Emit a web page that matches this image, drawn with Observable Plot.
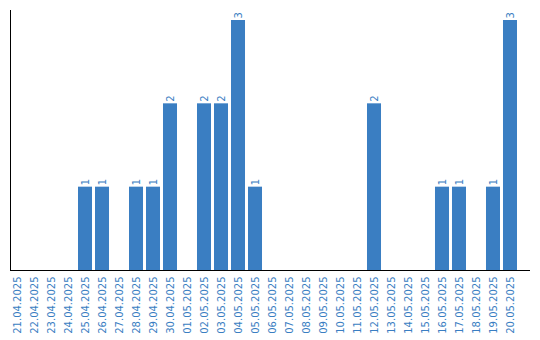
<!DOCTYPE html>
<html>
<head>
<meta charset="utf-8">
<script src="https://cdn.jsdelivr.net/npm/d3@7"></script>
<script src="https://cdn.jsdelivr.net/npm/@observablehq/plot@0.6"></script>
<style>
  html, body { margin: 0; padding: 0; background: #fff; }
  svg, svg text { font-family: "DejaVu Sans", sans-serif !important; }
</style>
</head>
<body>
<div id="chart"></div>
<script>
const dates = [
  "21.04.2025","22.04.2025","23.04.2025","24.04.2025","25.04.2025","26.04.2025",
  "27.04.2025","28.04.2025","29.04.2025","30.04.2025","01.05.2025","02.05.2025",
  "03.05.2025","04.05.2025","05.05.2025","06.05.2025","07.05.2025","08.05.2025",
  "09.05.2025","10.05.2025","11.05.2025","12.05.2025","13.05.2025","14.05.2025",
  "15.05.2025","16.05.2025","17.05.2025","18.05.2025","19.05.2025","20.05.2025"
];
const counts = [
  0,0,0,0,1,1,
  0,1,1,2,0,2,
  2,3,1,0,0,0,
  0,0,0,2,0,0,
  0,1,1,0,1,3
];

const color = "#3a7ec2";
const data = dates.map((d, i) => ({date: d, count: counts[i]}));
const nonzero = data.filter(d => d.count > 0);

const plot = Plot.plot({
  width: 540,
  height: 340,
  marginLeft: 10,
  marginRight: 10,
  marginTop: 10,
  marginBottom: 70,
  style: {fontFamily: "DejaVu Sans", fontSize: "10px", background: "#fff"},
  x: {type: "band", domain: dates, insetRight: 13, paddingInner: 0.176, paddingOuter: 0, round: false, axis: null},
  y: {domain: [0, 3], insetTop: 10, axis: null},
  marks: [
    Plot.barY(nonzero, {x: "date", y: "count", fill: color}),
    Plot.text(nonzero, {x: "date", y: "count", text: d => String(d.count), rotate: -90,
      textAnchor: "start", lineAnchor: "middle", dy: -2, fill: color, fontSize: 10}),
    Plot.ruleY([0], {stroke: "#000"}),
    Plot.frame({anchor: "left", stroke: "#000"}),
    Plot.axisX({tickSize: 0, tickRotate: -90, tickPadding: 6, fill: color, fontSize: 10, label: null})
  ]
});
document.getElementById("chart").appendChild(plot);
</script>
</body>
</html>
